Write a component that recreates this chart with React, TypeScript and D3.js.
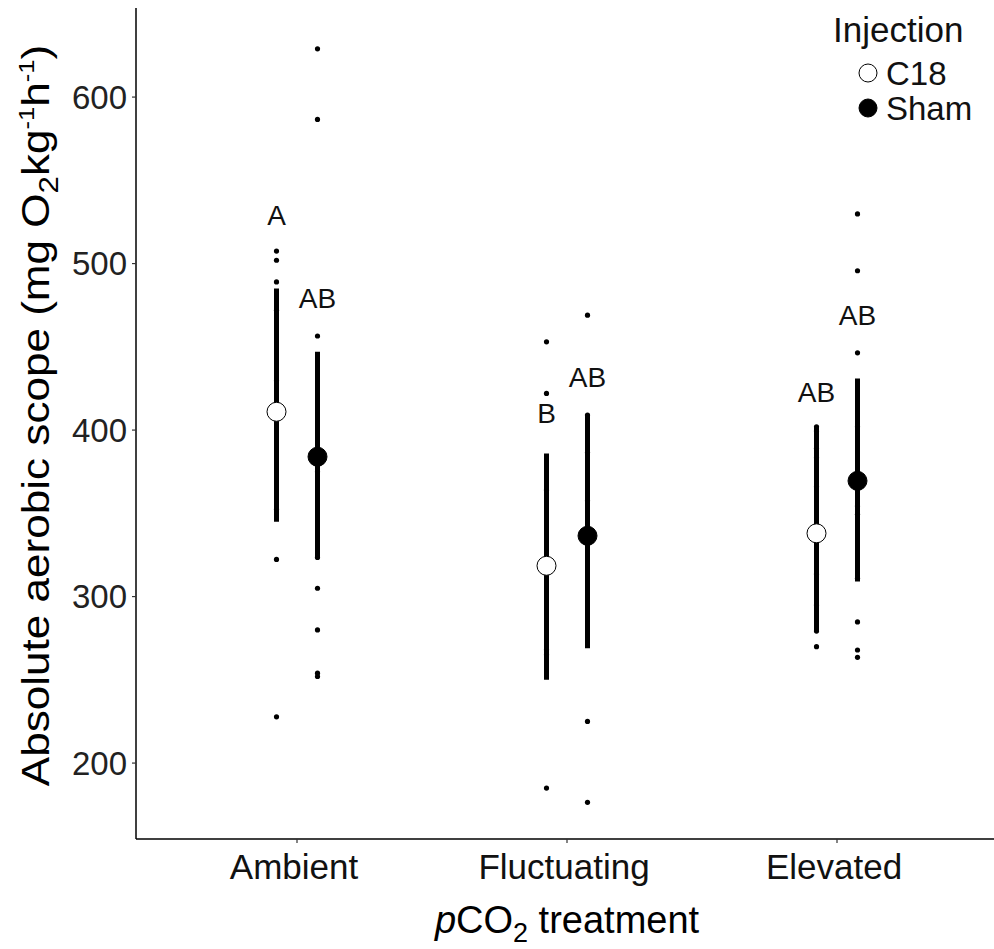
import React from 'react';
import * as d3 from 'd3';

const categories = ['Ambient', 'Fluctuating', 'Elevated'];
const injections = ['C18', 'Sham'];
const meanC18 = [411, 318.5, 338];
const lowerC18 = [345, 250, 279];
const upperC18 = [485, 386, 402];
const meanSham = [384, 336.5, 369.5];
const lowerSham = [323, 269, 309];
const upperSham = [447, 409, 431];
const rawC18 = [
  [507.5, 502, 489, 472, 429.6, 352.5, 322.3, 227.8],
  [453, 422, 364, 268, 265, 185],
  [402, 399.4, 389, 383.4, 366, 313.5, 294.9, 279.3, 269.9],
];
const rawSham = [
  [629, 586.6, 456.5, 375, 323.5, 305, 280, 254, 252],
  [469, 409, 386.5, 357.6, 225, 176.4],
  [529.8, 495.7, 446.4, 402, 354.4, 349.4, 311, 284.8, 267.9, 263.5],
];
const lettersC18 = ['A', 'B', 'AB'];
const lettersSham = ['AB', 'AB', 'AB'];
const letterYC18 = [529, 410, 423];
const letterYSham = [479, 432, 469];
const yTicks = [200, 300, 400, 500, 600];

const FONT = '"Liberation Sans", Arial, sans-serif';

export default function App() {
  const W = 994, H = 949;
  const left = 136, bottom = 839, top = 8;
  const y = d3.scaleLinear().domain([154.4, 653.5]).range([bottom, top]);
  const x = d3.scalePoint<string>().domain(categories).range([135, 999]).padding(0.6);
  const dodge = d3.scalePoint<string>().domain(injections).range([-20.5, 20.5]);

  const groups = injections.map((inj) => {
    const isC = inj === 'C18';
    return {
      inj,
      mean: isC ? meanC18 : meanSham,
      lo: isC ? lowerC18 : lowerSham,
      hi: isC ? upperC18 : upperSham,
      raw: isC ? rawC18 : rawSham,
      letters: isC ? lettersC18 : lettersSham,
      ly: isC ? letterYC18 : letterYSham,
      fill: isC ? '#ffffff' : '#000000',
    };
  });

  return (
    <svg width={W} height={H} style={{ display: 'block', position: 'absolute', left: 0, top: 0 }} fontFamily={FONT}>
      <rect x={0} y={0} width={W} height={H} fill="#fff" />
      {/* axes */}
      <line x1={left} x2={left} y1={top} y2={bottom} stroke="#000" strokeWidth={1.5} />
      <line x1={left} x2={W} y1={bottom} y2={bottom} stroke="#000" strokeWidth={1.5} />
      {yTicks.map((t) => (
        <g key={t}>
          <line x1={left - 4} x2={left} y1={y(t)} y2={y(t)} stroke="#333" strokeWidth={1.2} />
          <text x={left - 9} y={y(t)} dy="0.35em" textAnchor="end" fontSize={33} fill="#222">{t}</text>
        </g>
      ))}
      {categories.map((c) => (
        <g key={c}>
          <line x1={x(c)} x2={x(c)} y1={bottom} y2={bottom + 4} stroke="#333" strokeWidth={1.2} />
          <text x={(x(c) as number) - 3} y={bottom + 40} textAnchor="middle" fontSize={35} fill="#111">{c}</text>
        </g>
      ))}
      {/* x title */}
      <text x={x('Fluctuating')} y={933} textAnchor="middle" fontSize={38} fill="#000">
        <tspan fontStyle="italic">p</tspan>CO<tspan fontSize={27} dy={9}>2</tspan><tspan dy={-9}> treatment</tspan>
      </text>
      {/* y title */}
      <text transform={`translate(49, ${(top + bottom) / 2 - 8}) rotate(-90) scale(1.16, 1)`} textAnchor="middle" fontSize={38} fill="#000">
        Absolute aerobic scope (mg O<tspan fontSize={27} dy={9}>2</tspan><tspan dy={-9}>kg</tspan><tspan fontSize={22} dy={-15}>-1</tspan><tspan dy={15}>h</tspan><tspan fontSize={22} dy={-15}>-1</tspan><tspan dy={15}>)</tspan>
      </text>
      {/* data */}
      {groups.map((g) => (
        <g key={g.inj}>
          {categories.map((c, i) => {
            const cx = (x(c) as number) + (dodge(g.inj) as number);
            return (
              <g key={c}>
                {g.raw[i].map((v, j) => (
                  <circle key={j} cx={cx} cy={y(v)} r={2.6} fill="#000" />
                ))}
                <line x1={cx} x2={cx} y1={y(g.lo[i])} y2={y(g.hi[i])} stroke="#000" strokeWidth={5} />
                <circle cx={cx} cy={y(g.mean[i])} r={9.5} fill={g.fill} stroke="#000" strokeWidth={1} />
                <text x={cx} y={y(g.ly[i])} dy="0.35em" textAnchor="middle" fontSize={28} fill="#111">{g.letters[i]}</text>
              </g>
            );
          })}
        </g>
      ))}
      {/* legend */}
      <text x={833} y={42} fontSize={35} fill="#111">Injection</text>
      {groups.map((g, i) => (
        <g key={g.inj}>
          <circle cx={868} cy={73 + i * 35} r={9} fill={g.fill} stroke="#000" strokeWidth={1} />
          <text x={886} y={73 + i * 35} dy="0.36em" fontSize={33} fill="#111">{g.inj}</text>
        </g>
      ))}
    </svg>
  );
}
